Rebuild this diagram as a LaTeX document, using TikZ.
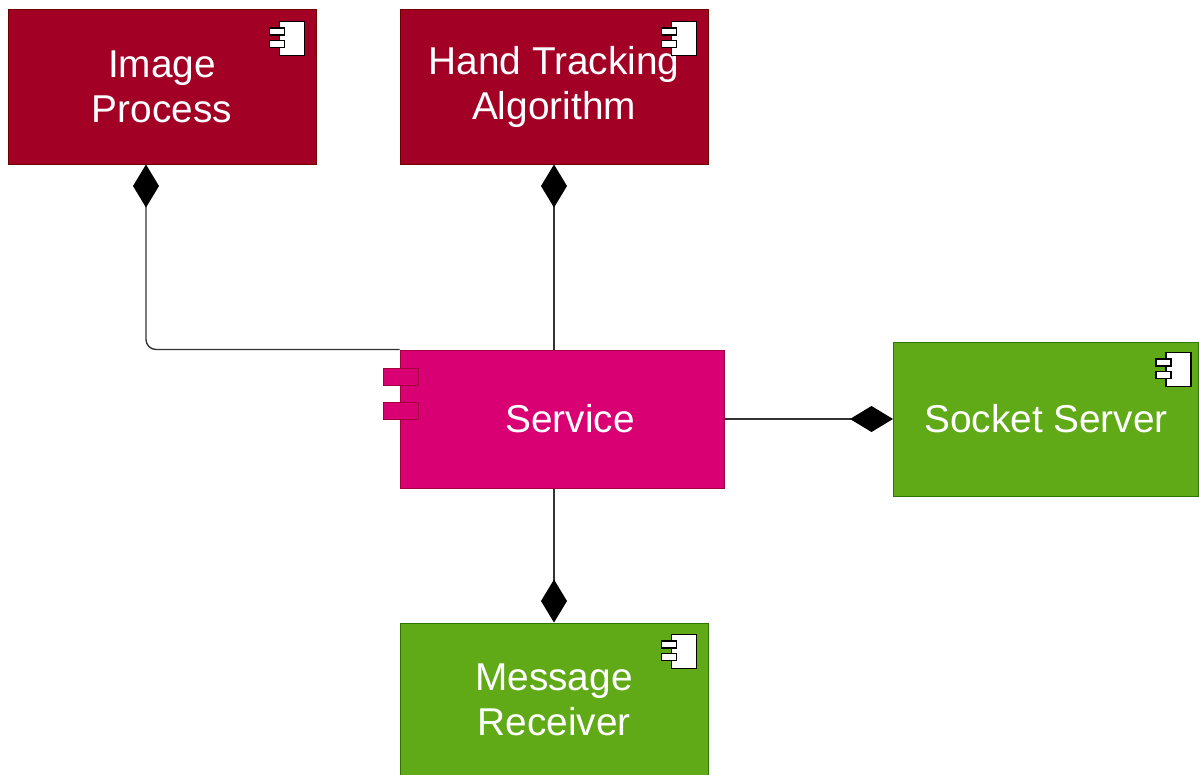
\documentclass[tikz,border=0pt]{standalone}
\usepackage{fontspec}
\setmainfont{Liberation Sans}
\usetikzlibrary{arrows.meta}
\definecolor{crimsonf}{HTML}{A20025}
\definecolor{crimsonl}{HTML}{6F0000}
\definecolor{magentaf}{HTML}{D80073}
\definecolor{magental}{HTML}{A50040}
\definecolor{greenf}{HTML}{60A917}
\definecolor{greenl}{HTML}{2D7600}
\definecolor{linec}{HTML}{333333}
\begin{document}
\begin{tikzpicture}[x=1pt,y=-1pt,
  box/.style={draw, line width=1pt, minimum width=308pt, minimum height=155pt,
    inner sep=0pt, text=white, align=center, font=\fontsize{38.8}{45}\selectfont},
  redbox/.style={box, fill=crimsonf, draw=crimsonl},
  greenbox/.style={box, fill=greenf, draw=greenl},
  magbox/.style={box, fill=magentaf, draw=magental},
  conn/.style={draw=linec, line width=1.4pt},
  dia/.tip={Diamond[length=43pt,width=26pt,fill=black,color=black]},
  port/.style={draw=magental, fill=magentaf, line width=1pt},
  comp/.pic={
    \draw[line width=1.4pt, fill=white] (-25,0) rectangle (0,34);
    \draw[line width=1.4pt, fill=white] (-35,6.5) rectangle (-20,13.5);
    \draw[line width=1.4pt, fill=white] (-35,19) rectangle (-20,26);
  }]
\useasboundingbox (0,0) rectangle (1199,774);
\node[redbox] (ip) at (162,86.5) {Image\\Process};
\node[redbox] (ht) at (554,86.5) {\raisebox{-3pt}{Hand Tracking}\\\raisebox{-3pt}{Algorithm}};
\node[magbox, minimum width=324pt, minimum height=138pt] (svc) at (562,419) {\hspace*{16pt}Service};
\node[greenbox, minimum width=305pt, minimum height=154pt] (ss) at (1046,419) {Socket Server};
\node[greenbox, minimum height=154pt] (mr) at (554,700) {Message\\Receiver};
\path[port] (383,368) rectangle (418,385);
\path[port] (383,402) rectangle (418,419);
\pic at ([shift={(-12,13)}]ip.north east) {comp};
\pic at ([shift={(-12,13)}]ht.north east) {comp};
\pic at ([shift={(-8,11)}]ss.north east) {comp};
\pic at ([shift={(-12,12)}]mr.north east) {comp};
\draw[conn, rounded corners=10pt, {dia}-] ([xshift=-16pt]ip.south) |- (svc.north west);
\draw[conn, {dia}-] (ht.south) -- (ht.south |- svc.north);
\draw[conn, -{dia}] (svc.east) -- (ss.west);
\draw[conn, -{dia}] (mr.north |- svc.south) -- (mr.north);
\end{tikzpicture}
\end{document}
